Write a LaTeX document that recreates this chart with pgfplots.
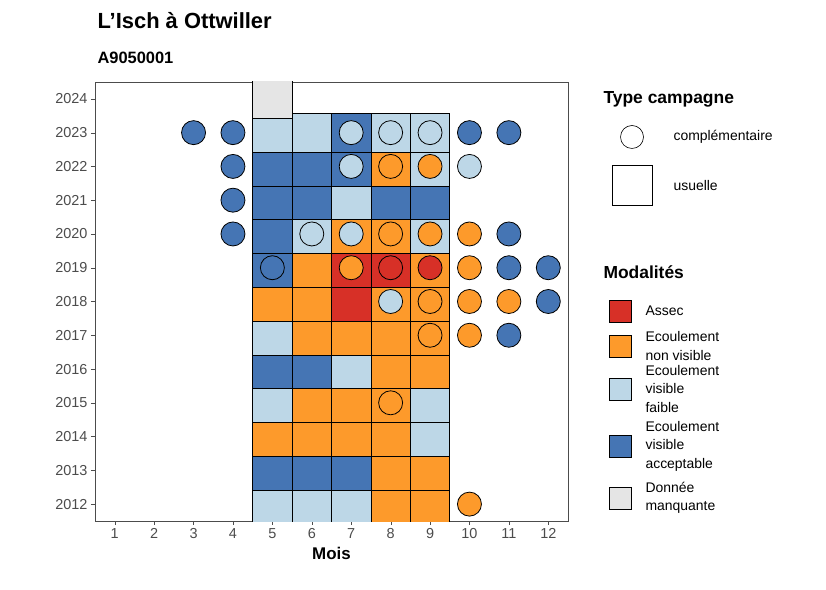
\documentclass[border=0pt]{standalone}
\usepackage{pgfplots}
\pgfplotsset{compat=1.18}
\usepackage{pgfplotstable}
\usepackage{fontspec}
\setmainfont{Liberation Sans}
\definecolor{cR}{HTML}{D73027}
\definecolor{cO}{HTML}{FD9A2B}
\definecolor{cL}{HTML}{BDD7E7}
\definecolor{cB}{HTML}{4575B4}
\definecolor{cG}{HTML}{E5E5E5}
\pgfplotstableread{
x y c
5 2012 L
6 2012 L
7 2012 L
8 2012 O
9 2012 O
5 2013 B
6 2013 B
7 2013 B
8 2013 O
9 2013 O
5 2014 O
6 2014 O
7 2014 O
8 2014 O
9 2014 L
5 2015 L
6 2015 O
7 2015 O
8 2015 O
9 2015 L
5 2016 B
6 2016 B
7 2016 L
8 2016 O
9 2016 O
5 2017 L
6 2017 O
7 2017 O
8 2017 O
9 2017 O
5 2018 O
6 2018 O
7 2018 R
8 2018 O
9 2018 O
5 2019 B
6 2019 O
7 2019 R
8 2019 R
9 2019 O
5 2020 B
6 2020 L
7 2020 O
8 2020 O
9 2020 L
5 2021 B
6 2021 B
7 2021 L
8 2021 B
9 2021 B
5 2022 B
6 2022 B
7 2022 B
8 2022 O
9 2022 L
5 2023 L
6 2023 L
7 2023 B
8 2023 L
9 2023 L
5 2024 G
}\squares
\pgfplotstableread{
x y c
10 2012 O
8 2015 O
9 2017 O
10 2017 O
11 2017 B
8 2018 L
9 2018 O
10 2018 O
11 2018 O
12 2018 B
5 2019 B
7 2019 O
8 2019 R
9 2019 R
10 2019 O
11 2019 B
12 2019 B
4 2020 B
6 2020 L
7 2020 L
8 2020 O
9 2020 O
10 2020 O
11 2020 B
4 2021 B
4 2022 B
7 2022 L
8 2022 O
9 2022 O
10 2022 L
3 2023 B
4 2023 B
7 2023 L
8 2023 L
9 2023 L
10 2023 B
11 2023 B
}\circles
\begin{document}
\begin{tikzpicture}
\begin{axis}[name=ax, scale only axis, width=473bp, height=439bp,
  xmin=0.5, xmax=12.5, ymin=2011.5, ymax=2024.5,
  xtick={1,...,12}, ytick={2012,...,2024},
  xtick pos=bottom, ytick pos=left, clip marker paths=true,
  /pgf/number format/.cd, set thousands separator={}, assume math mode=true, /pgfplots/.cd,
  tick align=outside, major tick length=4bp, tick style={black!70},
  tick label style={font=\fontsize{14.5}{15}\selectfont, text=black!70},
  xlabel={\bfseries Mois}, xlabel style={font=\fontsize{17}{18}\selectfont, yshift=-2bp},
  axis line style={black!70},
  scatter/classes={R={fill=cR,draw=black},O={fill=cO,draw=black},L={fill=cL,draw=black},B={fill=cB,draw=black},G={fill=cG,draw=black}},
]
\addplot[scatter, only marks, scatter src=explicit symbolic, mark=square*, mark size=19.7bp, line width=0.8pt] table[x=x,y=y,meta=c]{\squares};
\addplot[scatter, only marks, scatter src=explicit symbolic, mark=*, mark size=12bp, line width=0.8pt] table[x=x,y=y,meta=c]{\circles};
\end{axis}
\begin{scope}[shift={(ax.north west)}, x=1bp, y=-1bp]
\node[anchor=west, font=\fontsize{22}{24}\selectfont\bfseries] at (-1,-61) {L'Isch à Ottwiller};
\node[anchor=west, font=\fontsize{16.5}{18}\selectfont\bfseries] at (-1,-24) {A9050001};
\node[anchor=west, font=\fontsize{17.5}{19}\selectfont\bfseries] at (505,17) {Type campagne};
\draw[line width=0.6pt] (537,55) circle (11.5);
\node[anchor=west, font=\fontsize{14}{15}\selectfont] at (575,55) {complémentaire};
\draw[line width=0.6pt] (517,83) rectangle (557,123);
\node[anchor=west, font=\fontsize{14}{15}\selectfont] at (575,104) {usuelle};
\node[anchor=west, font=\fontsize{17.5}{19}\selectfont\bfseries] at (505,190) {Modalités};
\foreach \c/\yy/\t in {cR/229/Assec, cO/264/{Ecoulement\\non visible}, cL/307/{Ecoulement\\visible\\faible}, cB/364/{Ecoulement\\visible\\acceptable}, cG/416/{Donnée\\manquante}} {
  \draw[fill=\c, line width=0.6pt] (514,\yy-11) rectangle (536,\yy+11);
  \node[anchor=west, align=left, font=\fontsize{14}{18.5}\selectfont] at (547,\yy) {\t};
}
\pgfresetboundingbox
\path (-95,-82) rectangle (731,508);
\end{scope}
\end{tikzpicture}
\end{document}
